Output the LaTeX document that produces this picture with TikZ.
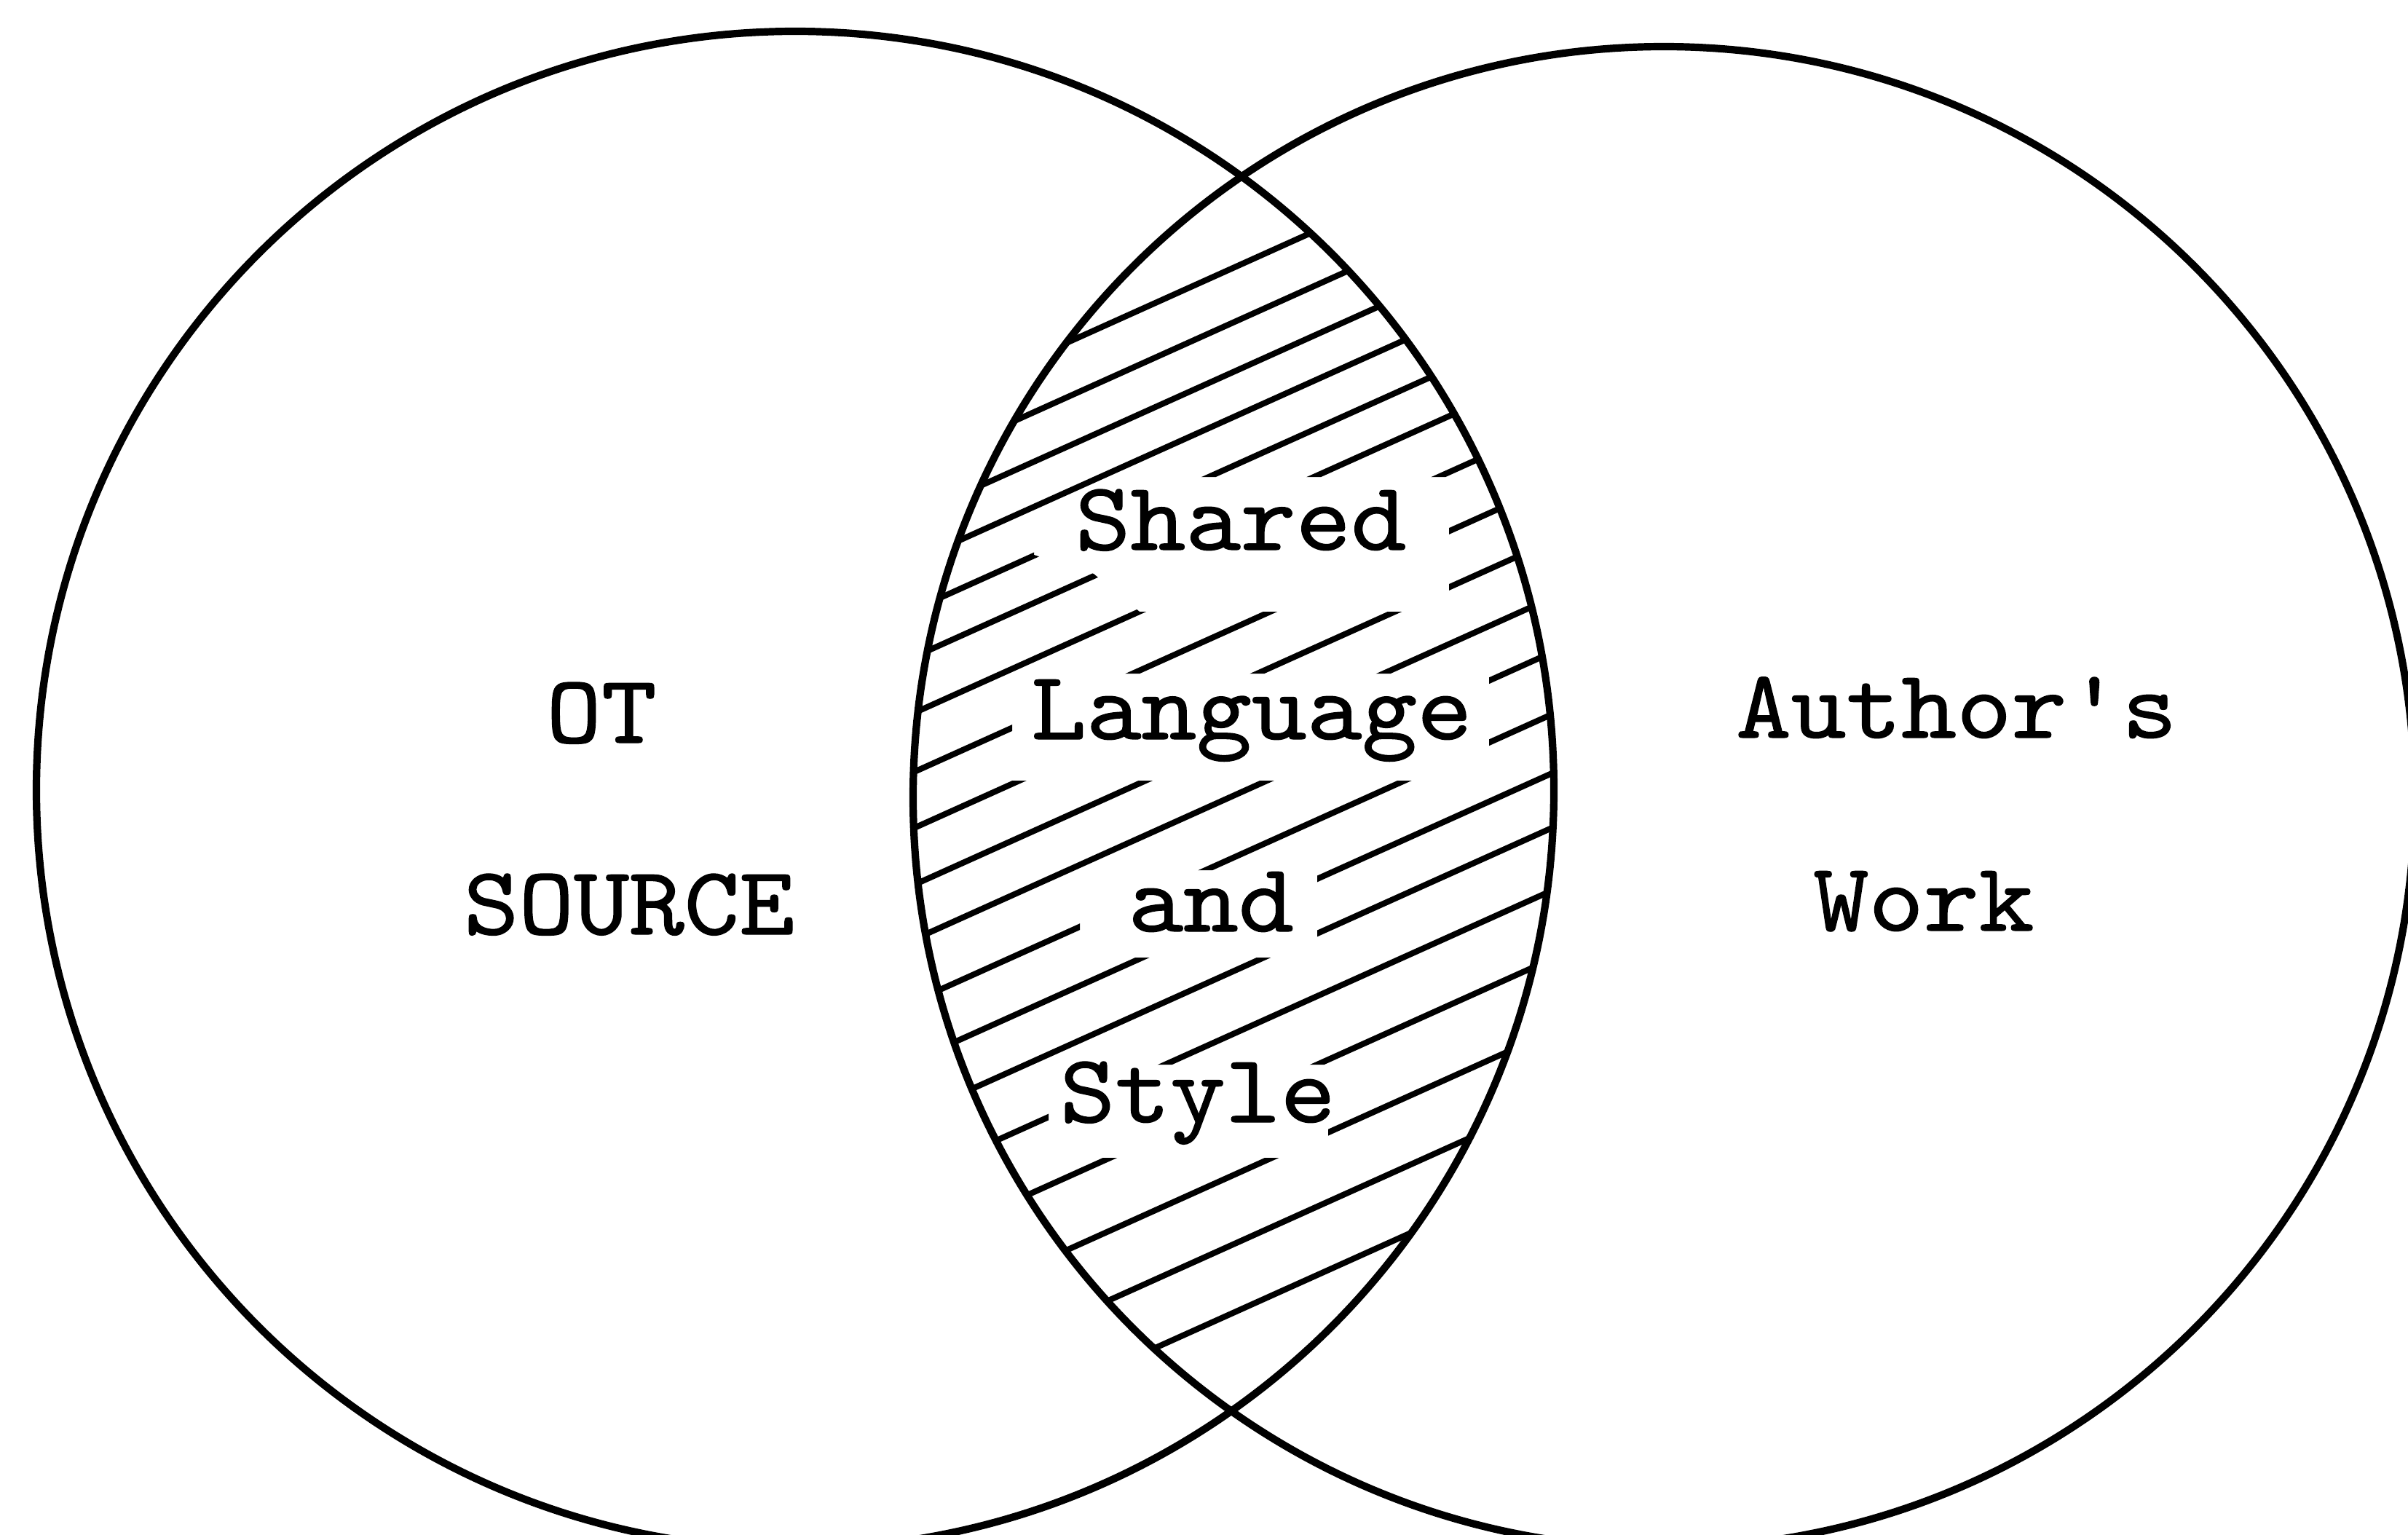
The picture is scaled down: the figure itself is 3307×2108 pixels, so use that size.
\documentclass[tikz,border=0pt]{standalone}
\usepackage{fontspec}
\newfontfamily\vennfont{lmmono10-regular}[Extension=.otf, FakeStretch=1.08, FakeBold=1, Ligatures=TeXOff]
\tikzset{
  ring/.style={line width=2.9pt},
  hatch/.style={line width=2.3pt, line cap=round},
  vennlabel/.style={font=\vennfont\fontsize{38}{40}\selectfont, anchor=base, inner sep=0pt}
}
\begin{document}
\begin{tikzpicture}[x=0.1mm, y=-0.1mm]
    \useasboundingbox (0,0) rectangle (3307,2108);
    \clip (0,0) rectangle (3307,2108);
    \coordinate (oc) at (1092,1085);
    \coordinate (ac) at (2285,1095);

    % hatching of the overlap, left open round the words
    \begin{scope}[even odd rule]
        \clip (oc) circle [radius=1042];
        \clip (ac) circle [radius=1031]
            (1420,722) -- (1600,655) -- (1990,655) -- (1990,840) -- (1565,840) -- (1502,788) -- (1420,762) -- cycle
            (1390,925) rectangle (2045,1072)
            (1483,1195) rectangle (1809,1315)
            (1440,1462) rectangle (1824,1590);
        \foreach \yy in {455,530,598,660,727,792,869,950,1027,1105,1180,1265,1346,1421,1507,1601,1701,1796,1890}
            \draw[hatch] (1200,\yy+135) -- (2200,\yy-315);
    \end{scope}

    \draw[ring] (oc) circle [radius=1042];
    \draw[ring] (ac) circle [radius=1031];

    \node[vennlabel] (ot) at (826,1020) {OT};
    \node[vennlabel] (source) at (864,1283) {SOURCE};
    \node[vennlabel] (shared) at (1704,755) {Shared};
    \node[vennlabel] (language) at (1719,1015) {Language};
    \node[vennlabel] (and) at (1663,1279) {and};
    \node[vennlabel] (style) at (1645,1541) {Style};
    \node[vennlabel] (author) at (2687,1013) {Author's};
    \node[vennlabel] (work) at (2642,1278) {Work};
\end{tikzpicture}
\end{document}
